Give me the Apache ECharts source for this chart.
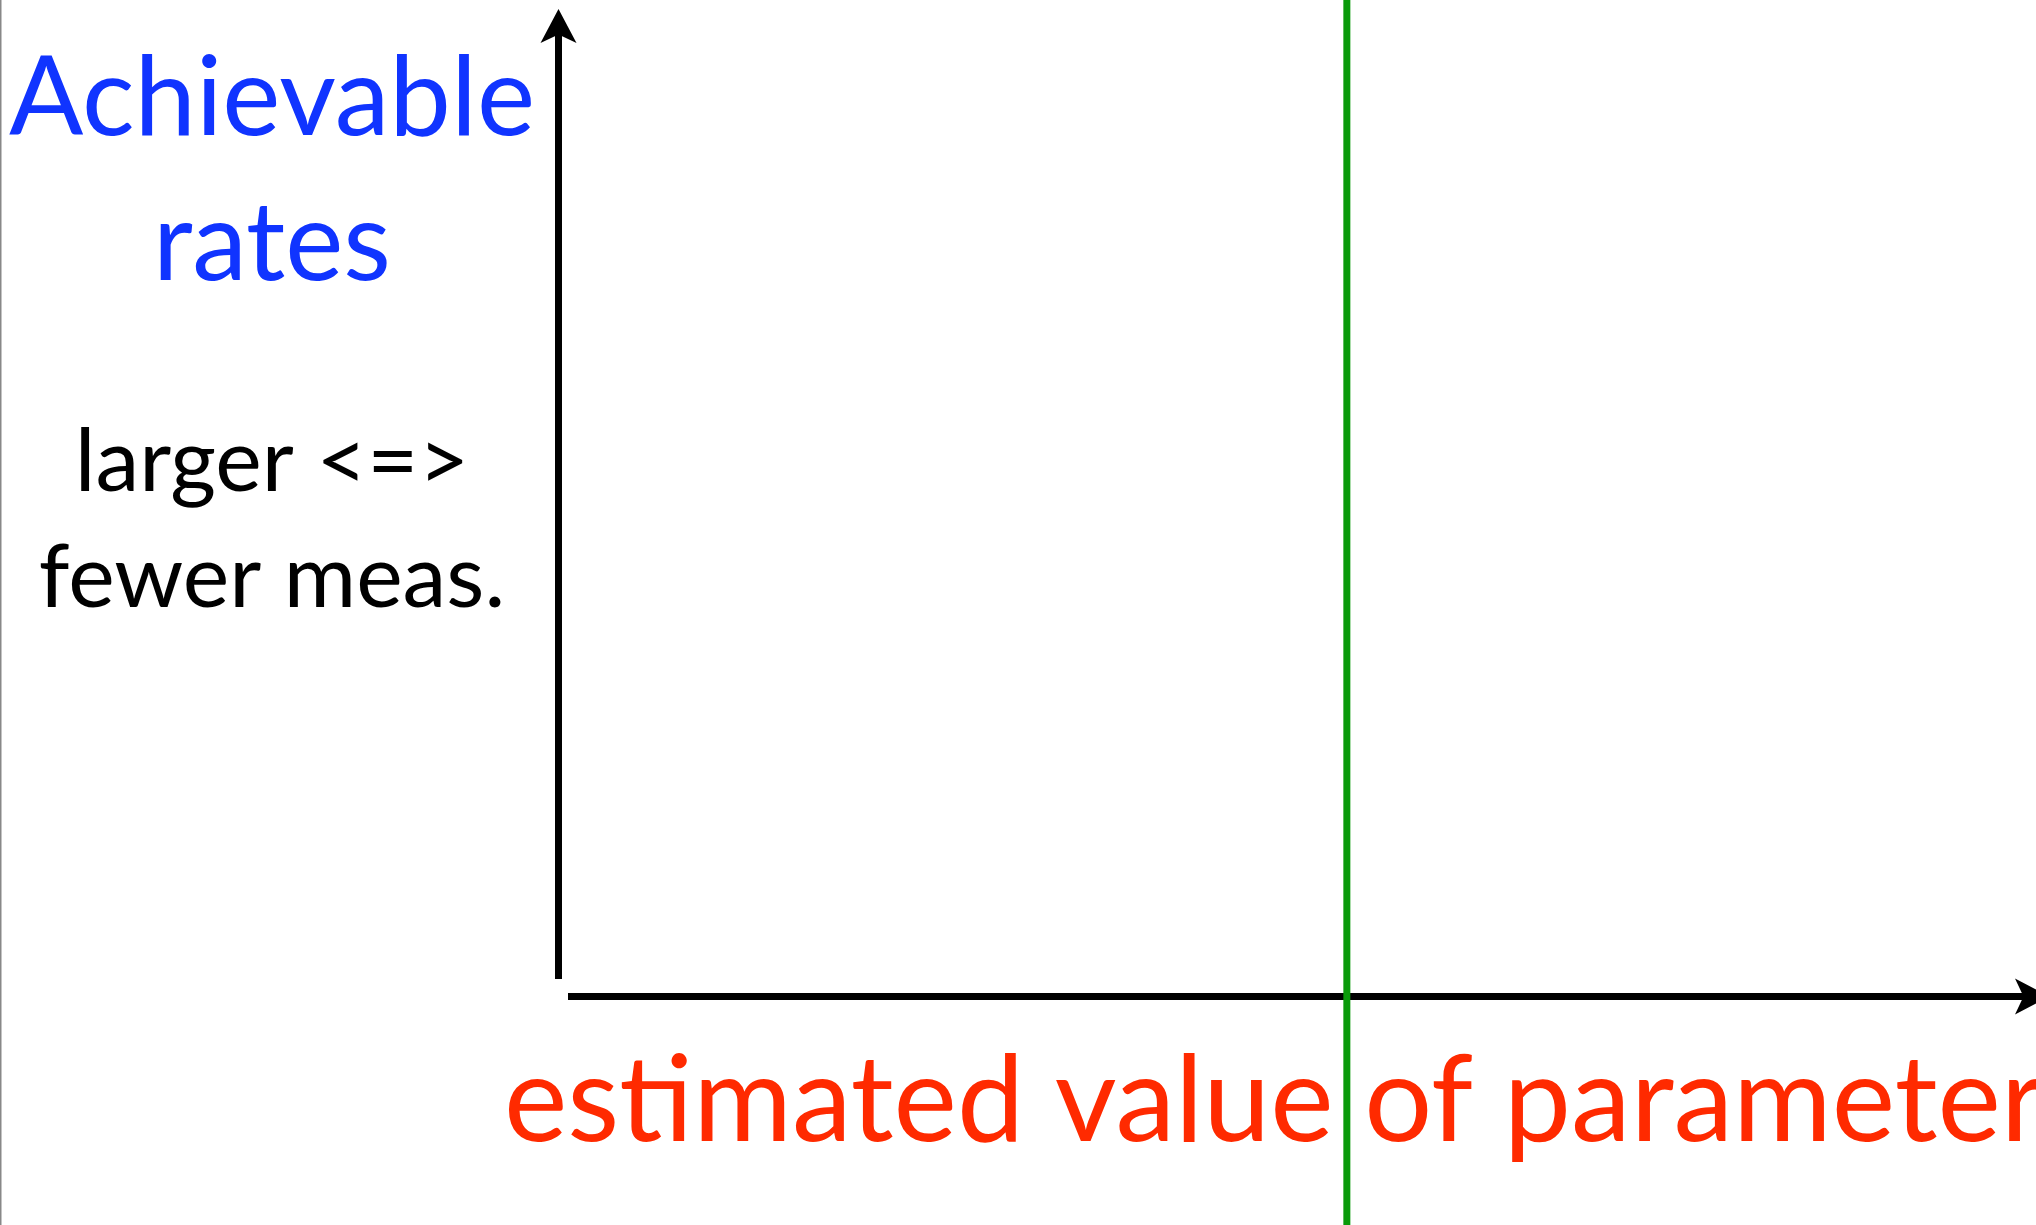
<!DOCTYPE html>
<html>
<head>
<meta charset="utf-8">
<style>
  html, body { margin: 0; padding: 0; background: #fff; }
  #main { width: 2036px; height: 1225px; }
</style>
<script src="https://cdn.jsdelivr.net/npm/echarts@6/dist/echarts.min.js"></script>
</head>
<body>
<div id="main"></div>
<script>
// axis ranges (schematic, no ticks)
var xRange = [0, 100];
var yRange = [0, 100];
// position of the green vertical marker on the x axis
var markerX = [53.2];
// text
var yTitle = ['Achievable', 'rates'];
var yNote = ['larger <=>', 'fewer meas.'];
var xTitle = ['estimated value of parameter'];

var FONT = 'Lato';
var blue = '#1034ff';
var red = '#ff2a00';
var green = '#0a9a0a';

var markerData = [];
markerX.forEach(function (v) {
    markerData.push([v, 0], [v, 1]);
});

var hiddenBits = {
    axisTick: { show: false },
    axisLabel: { show: false },
    splitLine: { show: false }
};

var arrowLine = {
    show: true, onZero: false,
    symbol: ['none', 'arrow'], symbolSize: [27, 34], symbolOffset: [0, 17],
    lineStyle: { color: '#000', width: 7, cap: 'butt' }
};

function textEl(str, x, y, size, color, align) {
    return {
        type: 'text',
        x: x,
        y: y,
        z: 10,
        style: {
            text: str,
            fill: color,
            font: 'normal ' + size + 'px ' + FONT,
            textAlign: align,
            textVerticalAlign: 'middle'
        }
    };
}

var domMain = document.getElementById('main');
var myChart = echarts.init(domMain);

var option = {
    backgroundColor: '#fff',
    animation: false,
    grid: [
        { left: 568, right: 4, top: 26, bottom: 228.5 },
        { left: 558.5, width: 100, top: 26, bottom: 246 },
        { left: 568, right: 4, top: 0, bottom: 0 }
    ],
    xAxis: [
        Object.assign({
            type: 'value', gridIndex: 0, min: xRange[0], max: xRange[1],
            axisLine: arrowLine
        }, hiddenBits),
        { type: 'value', gridIndex: 1, show: false, min: 0, max: 1 },
        { type: 'value', gridIndex: 2, show: false, min: xRange[0], max: xRange[1] }
    ],
    yAxis: [
        { type: 'value', gridIndex: 0, show: false, min: 0, max: 1 },
        Object.assign({
            type: 'value', gridIndex: 1, min: yRange[0], max: yRange[1],
            axisLine: arrowLine
        }, hiddenBits),
        { type: 'value', gridIndex: 2, show: false, min: 0, max: 1 }
    ],
    series: [
        {
            type: 'line',
            xAxisIndex: 2,
            yAxisIndex: 2,
            data: markerData,
            symbol: 'none',
            z: 5,
            lineStyle: { color: green, width: 7 }
        }
    ],
    graphic: [
        {
            type: 'rect',
            shape: { x: 0, y: 0, width: 1.5, height: 1225 },
            style: { fill: '#888' }
        },
        textEl(yTitle[0], 272, 100, 110, blue, 'center'),
        textEl(yTitle[1], 272, 245, 110, blue, 'center'),
        textEl(yNote[0], 272, 463, 88, '#000', 'center'),
        textEl(yNote[1], 272, 579, 88, '#000', 'center'),
        textEl(xTitle[0], 504, 1102, 120, red, 'left')
    ]
};

myChart.setOption(option, true);
</script>
</body>
</html>
